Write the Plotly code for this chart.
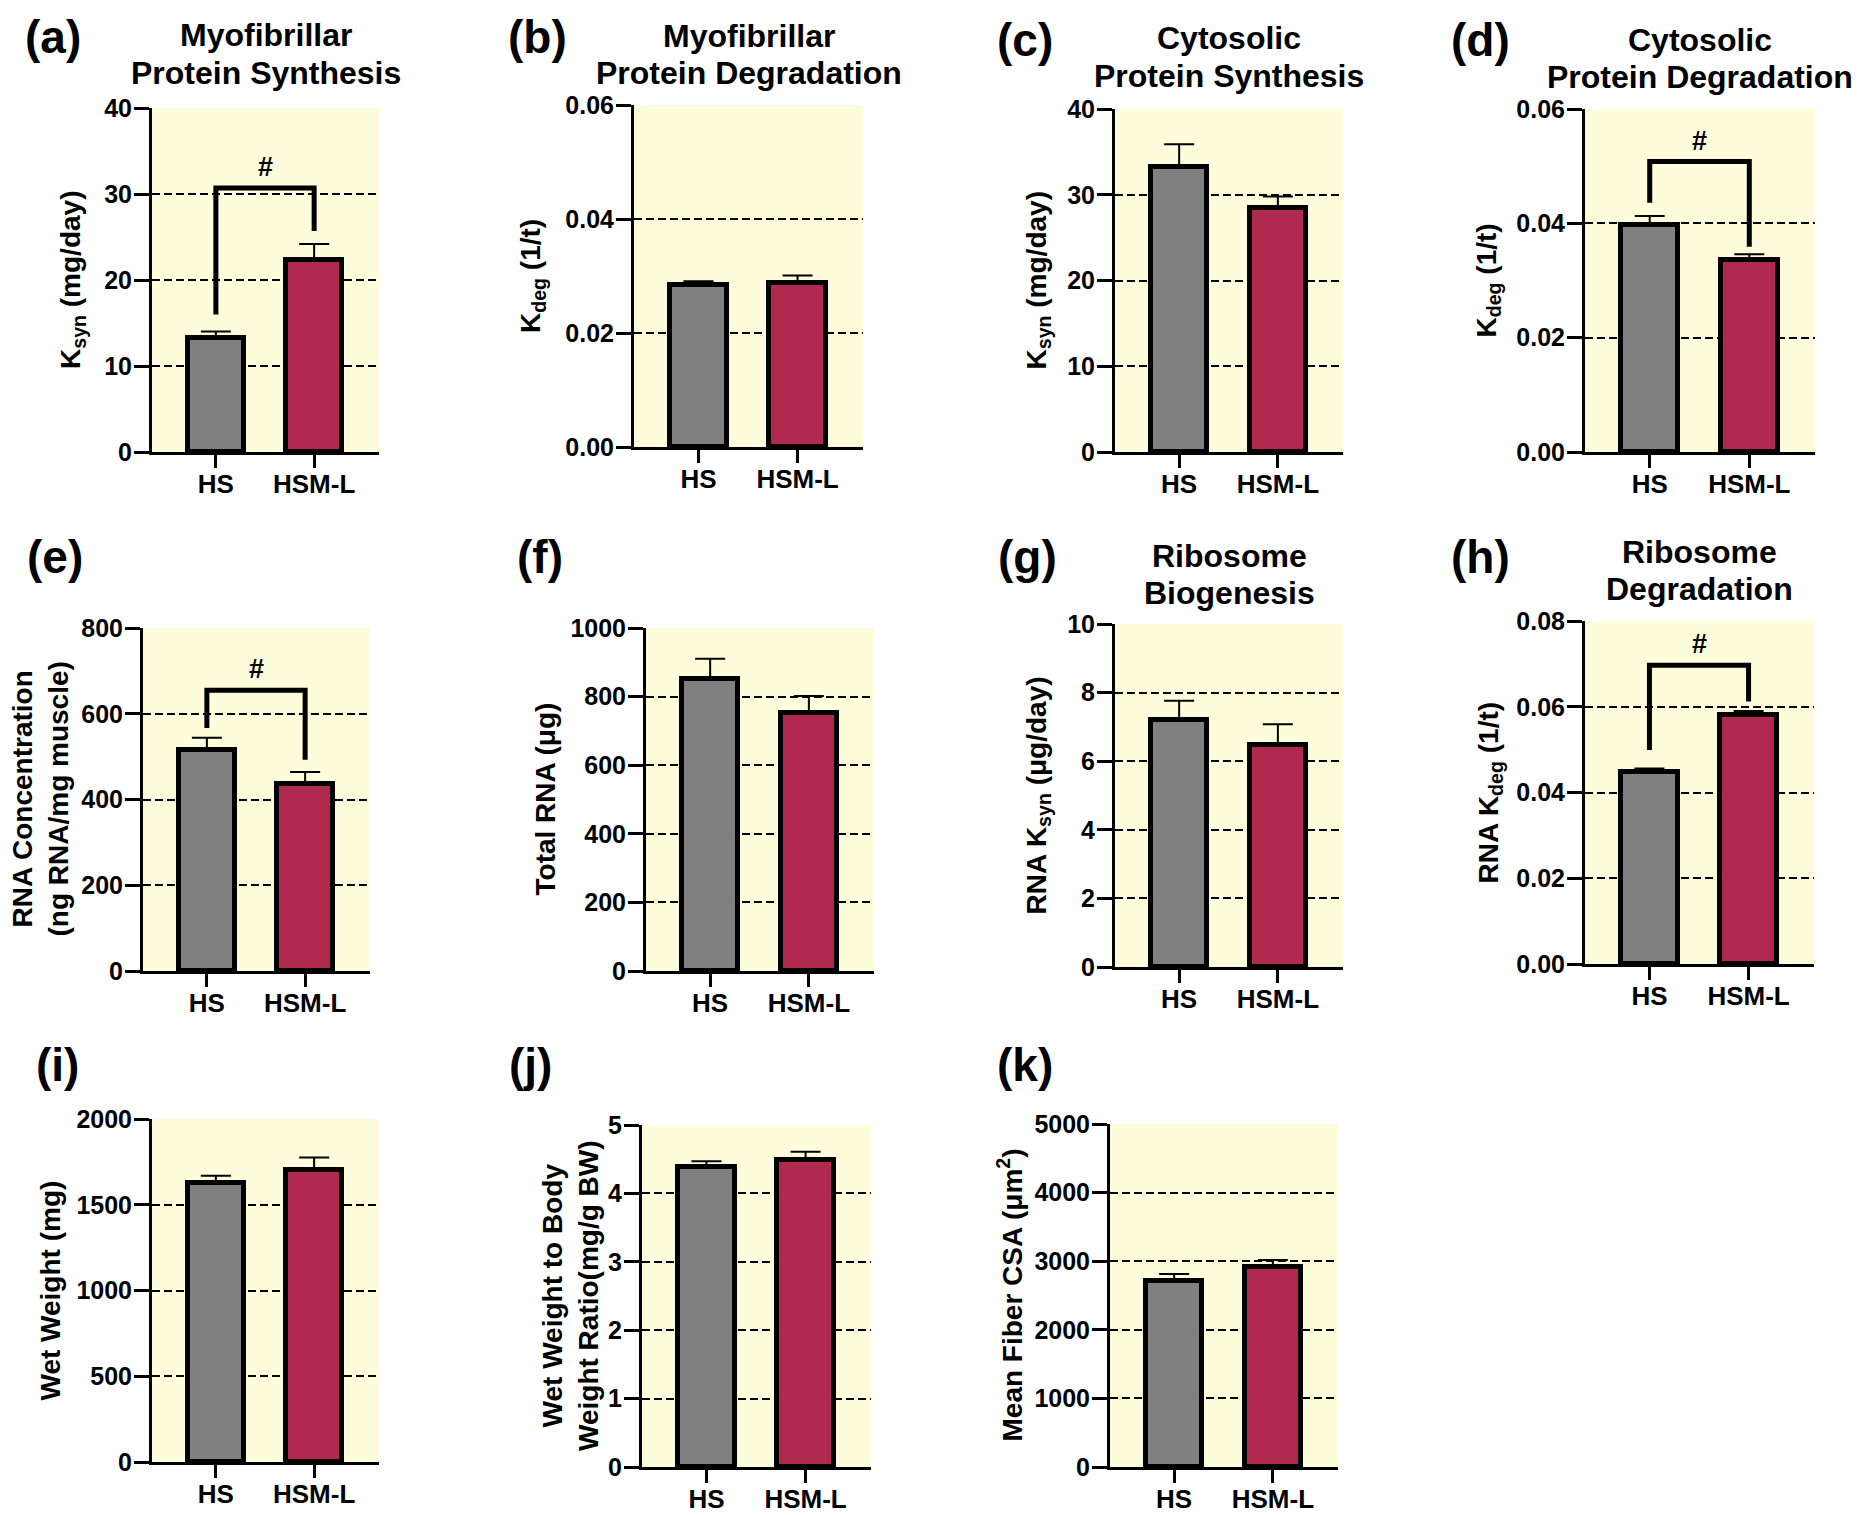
import plotly.graph_objects as go

W, H = 1862, 1515
FONT = "Liberation Sans"

# ---- data (mean, SEM) ----
groups = ["HS", "HSM-L"]

myo_syn = [13.2, 22.3]
myo_syn_sem = [0.8, 1.9]

myo_deg = [0.0285, 0.0288]
myo_deg_sem = [0.0006, 0.0013]

cyto_syn = [33.2, 28.4]
cyto_syn_sem = [2.7, 1.4]

cyto_deg = [0.0397, 0.0336]
cyto_deg_sem = [0.0016, 0.0010]

rna_conc = [516, 435]
rna_conc_sem = [28, 29]

total_rna = [851, 752]
total_rna_sem = [59, 50]

rna_ksyn = [7.2, 6.46]
rna_ksyn_sem = [0.56, 0.62]

rna_kdeg = [0.0447, 0.0581]
rna_kdeg_sem = [0.0009, 0.0009]

wet_weight = [1624, 1702]
wet_weight_sem = [45, 74]

ww_bw_ratio = [4.39, 4.49]
ww_bw_ratio_sem = [0.08, 0.12]

fiber_csa = [2717, 2911]
fiber_csa_sem = [97, 107]

# significance brackets: (left leg end, bracket top, right leg end)
bracket_a = [16.0, 30.7, 25.7]
bracket_d = [0.0436, 0.0508, 0.0359]
bracket_e = [567, 655, 493]
bracket_h = [0.0499, 0.0697, 0.0612]

bar_colours = ["#808080", "#B1294F"]


def px_x(v):
    return v / W


def px_y(v):
    return 1 - v / H


# panel layout: letter, title lines, y title, values, sem, ymax, dtick, fmt,
# box (left, right, top, bottom px), title line centres, letter pos, y-title x, bracket
panels = [
    dict(letter="(a)", title=["Myofibrillar", "Protein Synthesis"], ytitle="K<sub>syn</sub> (mg/day)",
         y=myo_syn, e=myo_syn_sem, ymax=40, dtick=10, fmt="d",
         box=(152, 379, 108, 452), ty=[35, 73], lab=(53, 37), ytx=72, br=bracket_a),
    dict(letter="(b)", title=["Myofibrillar", "Protein Degradation"], ytitle="K<sub>deg</sub> (1/t)",
         y=myo_deg, e=myo_deg_sem, ymax=0.06, dtick=0.02, fmt=".2f",
         box=(634, 863, 105, 447), ty=[36, 73], lab=(537, 37), ytx=533, br=None),
    dict(letter="(c)", title=["Cytosolic", "Protein Synthesis"], ytitle="K<sub>syn</sub> (mg/day)",
         y=cyto_syn, e=cyto_syn_sem, ymax=40, dtick=10, fmt="d",
         box=(1115, 1343, 109, 452), ty=[38, 76], lab=(1025, 40), ytx=1038, br=None),
    dict(letter="(d)", title=["Cytosolic", "Protein Degradation"], ytitle="K<sub>deg</sub> (1/t)",
         y=cyto_deg, e=cyto_deg_sem, ymax=0.06, dtick=0.02, fmt=".2f",
         box=(1585, 1815, 109, 452), ty=[40, 77], lab=(1480, 40), ytx=1488, br=bracket_d),
    dict(letter="(e)", title=[], ytitle="RNA Concentration<br>(ng RNA/mg muscle)",
         y=rna_conc, e=rna_conc_sem, ymax=800, dtick=200, fmt="d",
         box=(143, 370, 628, 971), ty=[], lab=(55, 557), ytx=40, br=bracket_e),
    dict(letter="(f)", title=[], ytitle="Total RNA (μg)",
         y=total_rna, e=total_rna_sem, ymax=1000, dtick=200, fmt="d",
         box=(646, 874, 628, 971), ty=[], lab=(540, 557), ytx=545, br=None),
    dict(letter="(g)", title=["Ribosome", "Biogenesis"], ytitle="RNA K<sub>syn</sub> (μg/day)",
         y=rna_ksyn, e=rna_ksyn_sem, ymax=10, dtick=2, fmt="d",
         box=(1115, 1343, 624, 967), ty=[556, 593], lab=(1027, 557), ytx=1038, br=None),
    dict(letter="(h)", title=["Ribosome", "Degradation"], ytitle="RNA K<sub>deg</sub> (1/t)",
         y=rna_kdeg, e=rna_kdeg_sem, ymax=0.08, dtick=0.02, fmt=".2f",
         box=(1585, 1814, 621, 964), ty=[552, 589], lab=(1480, 557), ytx=1490, br=bracket_h),
    dict(letter="(i)", title=[], ytitle="Wet Weight (mg)",
         y=wet_weight, e=wet_weight_sem, ymax=2000, dtick=500, fmt="d",
         box=(152, 379, 1119, 1462), ty=[], lab=(57, 1065), ytx=50, br=None),
    dict(letter="(j)", title=[], ytitle="Wet Weight to Body<br>Weight Ratio(mg/g BW)",
         y=ww_bw_ratio, e=ww_bw_ratio_sem, ymax=5, dtick=1, fmt="d",
         box=(642, 871, 1125, 1467), ty=[], lab=(530, 1065), ytx=570, br=None),
    dict(letter="(k)", title=[], ytitle="Mean Fiber CSA (μm<sup>2</sup>)",
         y=fiber_csa, e=fiber_csa_sem, ymax=5000, dtick=1000, fmt="d",
         box=(1110, 1338, 1124, 1467), ty=[], lab=(1025, 1065), ytx=1010, br=None),
]

fig = go.Figure()
annotations = []
layout_axes = {}

for i, p in enumerate(panels, start=1):
    xa = "x" if i == 1 else f"x{i}"
    ya = "y" if i == 1 else f"y{i}"
    xkey = "xaxis" if i == 1 else f"xaxis{i}"
    ykey = "yaxis" if i == 1 else f"yaxis{i}"
    left, right, top, bottom = p["box"]

    fig.add_trace(go.Bar(
        x=groups, y=p["y"], xaxis=xa, yaxis=ya,
        width=0.57,
        marker=dict(color=bar_colours, line=dict(color="black", width=5)),
        error_y=dict(type="data", array=p["e"], arrayminus=[0, 0], symmetric=False,
                     color="black", thickness=2, width=15),
        showlegend=False,
    ))

    if p["br"] is not None:
        l_end, b_top, r_end = p["br"]
        fig.add_trace(go.Scatter(
            x=[groups[0], groups[0], groups[1], groups[1]],
            y=[l_end, b_top, b_top, r_end],
            mode="lines", line=dict(color="black", width=5),
            xaxis=xa, yaxis=ya, showlegend=False, hoverinfo="skip",
        ))
        annotations.append(dict(
            x=0.5, y=b_top, xref=xa, yref=ya, text="#", showarrow=False,
            yanchor="bottom", yshift=4,
            font=dict(family=FONT, size=27, color="black", weight="bold"),
        ))

    layout_axes[xkey] = dict(
        domain=[px_x(left), px_x(right)], anchor=ya, automargin=False,
        type="category", categoryorder="array", categoryarray=groups,
        range=[-0.65, 1.66], showgrid=False, zeroline=False,
        showline=True, linecolor="black", linewidth=3,
        ticks="outside", ticklen=13, tickwidth=3, tickcolor="black",
        ticklabelstandoff=-6,
        tickfont=dict(family=FONT, size=26, color="black", weight="bold"),
    )
    layout_axes[ykey] = dict(
        domain=[px_y(bottom), px_y(top)], anchor=xa, automargin=False,
        range=[0, p["ymax"]], tick0=0, dtick=p["dtick"], tickformat=p["fmt"],
        showgrid=True, gridcolor="black", gridwidth=1.8, griddash="8px,4px",
        zeroline=False,
        showline=True, linecolor="black", linewidth=3,
        ticks="outside", ticklen=15, tickwidth=3, tickcolor="black",
        ticklabelstandoff=-3,
        tickfont=dict(family=FONT, size=25, color="black", weight="bold"),
    )

    # panel letter
    annotations.append(dict(
        x=px_x(p["lab"][0]), y=px_y(p["lab"][1]), xref="paper", yref="paper",
        text=p["letter"], showarrow=False, xanchor="center", yanchor="middle",
        font=dict(family=FONT, size=46, color="black", weight="bold"),
    ))
    # panel title, one annotation per line
    for line, ly in zip(p["title"], p["ty"]):
        annotations.append(dict(
            x=px_x((left + right) / 2), y=px_y(ly), xref="paper", yref="paper",
            text=line, showarrow=False, xanchor="center", yanchor="middle",
            font=dict(family=FONT, size=32, color="black", weight="bold"),
        ))
    # y axis title
    annotations.append(dict(
        x=px_x(p["ytx"]), y=px_y((top + bottom) / 2), xref="paper", yref="paper",
        text=p["ytitle"], textangle=-90, showarrow=False,
        xanchor="center", yanchor="middle",
        font=dict(family=FONT, size=28, color="black", weight="bold"),
    ))

fig.update_layout(
    width=W, height=H,
    margin=dict(l=0, r=0, t=0, b=0, autoexpand=False),
    paper_bgcolor="white",
    plot_bgcolor="#FDFCDB",
    bargap=0,
    annotations=annotations,
    **layout_axes,
)

# drop the default page margin so the figure sits at the window's corner
fig.write_html(
    "out.html",
    config={"displayModeBar": False},
    post_script="document.body.style.margin = '0';",
)
